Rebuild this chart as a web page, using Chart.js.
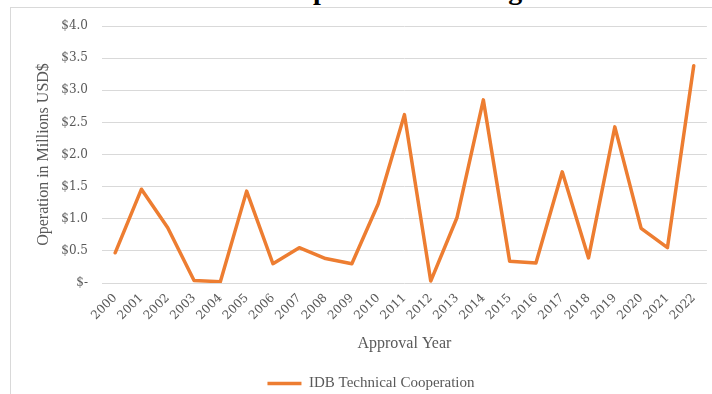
<!DOCTYPE html>
<html>
<head>
<meta charset="utf-8">
<script src="https://cdn.jsdelivr.net/npm/chart.js@4/dist/chart.umd.min.js"></script>
<style>
  html, body { margin: 0; padding: 0; background: #fff; overflow: hidden; }
  #wrap { position: relative; width: 712px; height: 394px; overflow: hidden; }
  #frame { position: absolute; left: 10px; top: 7px; width: 800px; height: 500px; border: 1px solid #d9d9d9; }
  #title { position: absolute; left: 0; top: -24px; width: 666px; text-align: center;
           font: bold 28px "Liberation Serif", serif; line-height: 28px; color: #000; white-space: nowrap; }
  #chart { position: absolute; left: 0; top: 0; }
</style>
</head>
<body>
<div id="wrap">
  <div id="frame"></div>
  <div id="title">Technical Cooperation Funding</div>
  <canvas id="chart" width="712" height="394"></canvas>
</div>
<script>
// approval years and amounts (millions USD)
var years = ["2000", "2001", "2002", "2003", "2004", "2005", "2006", "2007", "2008", "2009", "2010", "2011",
             "2012", "2013", "2014", "2015", "2016", "2017", "2018", "2019", "2020", "2021", "2022"];
var tcAmounts = [0.47, 1.46, 0.86, 0.04, 0.02, 1.43, 0.30, 0.55, 0.38, 0.30, 1.23, 2.62,
                 0.03, 1.02, 2.85, 0.34, 0.31, 1.73, 0.39, 2.43, 0.85, 0.55, 3.38];
var seriesName = "IDB Technical Cooperation";
var yTicks = [0, 0.5, 1, 1.5, 2, 2.5, 3, 3.5, 4];

var grey = "#595959";
var orange = "#ED7D31";

function money(v) {
    return v === 0 ? "$-" : "$" + v.toFixed(1);
}

var ctx = document.getElementById("chart").getContext("2d");
new Chart(ctx, {
    type: "line",
    data: {
        labels: years,
        datasets: [{
            label: seriesName,
            data: tcAmounts,
            borderColor: orange,
            backgroundColor: orange,
            borderWidth: 3.5,
            pointRadius: 0,
            tension: 0,
            borderCapStyle: "round",
            borderJoinStyle: "round"
        }]
    },
    options: {
        responsive: false,
        animation: false,
        layout: { padding: { top: 26, left: 34, right: 4, bottom: -7 } },
        plugins: {
            title: { display: false },
            tooltip: { enabled: false },
            legend: {
                position: "bottom",
                labels: {
                    usePointStyle: true,
                    pointStyle: "line",
                    pointStyleWidth: 34,
                    boxWidth: 34,
                    boxHeight: 10,
                    color: grey,
                    padding: 4,
                    font: { family: "Liberation Serif", size: 15 }
                }
            }
        },
        scales: {
            x: {
                offset: true,
                grid: { display: false, drawTicks: false },
                border: { display: false },
                ticks: {
                    color: grey,
                    minRotation: 45,
                    maxRotation: 45,
                    autoSkip: false,
                    padding: 8,
                    font: { family: "DejaVu Serif", size: 12 }
                },
                title: {
                    display: true,
                    text: "Approval Year",
                    color: grey,
                    padding: { top: 4, bottom: 19 },
                    font: { family: "Liberation Serif", size: 16 }
                },
                afterFit: function (s) { s.height = 89; }
            },
            y: {
                min: 0,
                max: 4,
                grid: { color: "#d9d9d9", lineWidth: 1, drawTicks: false },
                border: { display: false },
                afterBuildTicks: function (s) {
                    s.ticks = yTicks.map(function (v) { return { value: v }; });
                },
                ticks: {
                    color: grey,
                    padding: 14,
                    font: { family: "DejaVu Serif", size: 12 },
                    callback: function (v) { return money(v); }
                },
                title: {
                    display: true,
                    text: "Operation in Millions USD$",
                    color: grey,
                    padding: { top: 0, bottom: 0 },
                    font: { family: "Liberation Serif", size: 16 }
                },
                afterFit: function (s) { s.width = 68; }
            }
        }
    }
});
</script>
</body>
</html>
